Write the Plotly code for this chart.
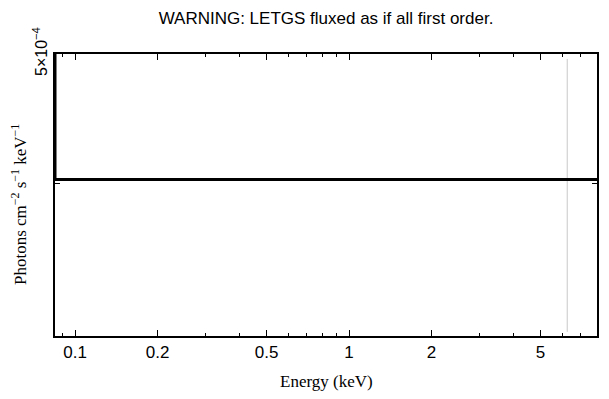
import math
import plotly.graph_objects as go

# Data
energy_keV = [0.0845, 0.0845, 8.04]
flux = [7.0e-4, 1.7e-5, 1.7e-5]
marker_energy = [6.26, 6.26]
marker_flux = [4.81e-4, -5.69e-4]

x_major = [0.1, 0.2, 0.5, 1, 2, 5]
x_major_text = ["0.1", "0.2", "0.5", "1", "2", "5"]
x_minor = [0.09, 0.3, 0.4, 0.6, 0.7, 0.8, 0.9, 3, 4, 6, 7, 8]
y_ticks = [0.0, 5e-4]
y_tick_text = ["", "5×10<sup>−4</sup>"]

x_range = [math.log10(0.0845), math.log10(8.04)]
y_range = [-5.85e-4, 5e-4]

fig = go.Figure()
fig.add_trace(go.Scatter(x=marker_energy, y=marker_flux, mode="lines",
                         line=dict(color="#c8c8c8", width=1), showlegend=False,
                         hoverinfo="skip"))
fig.add_trace(go.Scatter(x=energy_keV, y=flux, mode="lines",
                         line=dict(color="black", width=3), showlegend=False))

sans = "Liberation Sans, Arial, sans-serif"
serif = "Liberation Serif, Times New Roman, serif"

# page body has an 8px margin; figure is sized/offset to compensate
W, H = 601, 391
L, R, T, B = 47, 12, 46, 63
pw, ph = W - L - R, H - T - B

fig.update_layout(
    width=W, height=H,
    margin=dict(l=L, r=R, t=T, b=B),
    paper_bgcolor="white", plot_bgcolor="white",
    title=dict(text="WARNING: LETGS fluxed as if all first order.",
               x=0.5, xref="paper", y=1 - 10 / H, yref="container",
               xanchor="center", yanchor="middle",
               font=dict(family=sans, size=17, color="black")),
    xaxis=dict(type="log", range=x_range, showgrid=False, zeroline=False,
               automargin=False,
               showline=True, linecolor="black", linewidth=1.5, mirror="ticks",
               ticks="inside", ticklen=6, tickwidth=1, tickcolor="black",
               tickmode="array", tickvals=x_major, ticktext=x_major_text,
               tickfont=dict(family=sans, size=17, color="black"),
               minor=dict(tickmode="array", tickvals=x_minor, ticks="inside",
                          ticklen=3.5, tickwidth=1, tickcolor="black", showgrid=False)),
    yaxis=dict(range=y_range, showgrid=False, zeroline=False,
               automargin=False,
               showline=True, linecolor="black", linewidth=1.5, mirror="ticks",
               ticks="inside", ticklen=5, tickwidth=1, tickcolor="black",
               tickmode="array", tickvals=y_ticks, ticktext=y_tick_text,
               tickangle=-90,
               tickfont=dict(family=sans, size=16, color="black")),
    annotations=[
        dict(text="Energy (keV)", xref="paper", yref="paper",
             x=0.5, y=-45 / ph, xanchor="center", yanchor="middle",
             showarrow=False, font=dict(family=serif, size=17, color="black")),
        dict(text="Photons cm<sup>−2</sup> s<sup>−1</sup> keV<sup>−1</sup>",
             xref="paper", yref="paper", textangle=-90,
             x=-36 / pw, y=131 / ph, xanchor="center", yanchor="middle",
             showarrow=False, font=dict(family=serif, size=17, color="black")),
    ],
)

fig.write_html("out.html")
